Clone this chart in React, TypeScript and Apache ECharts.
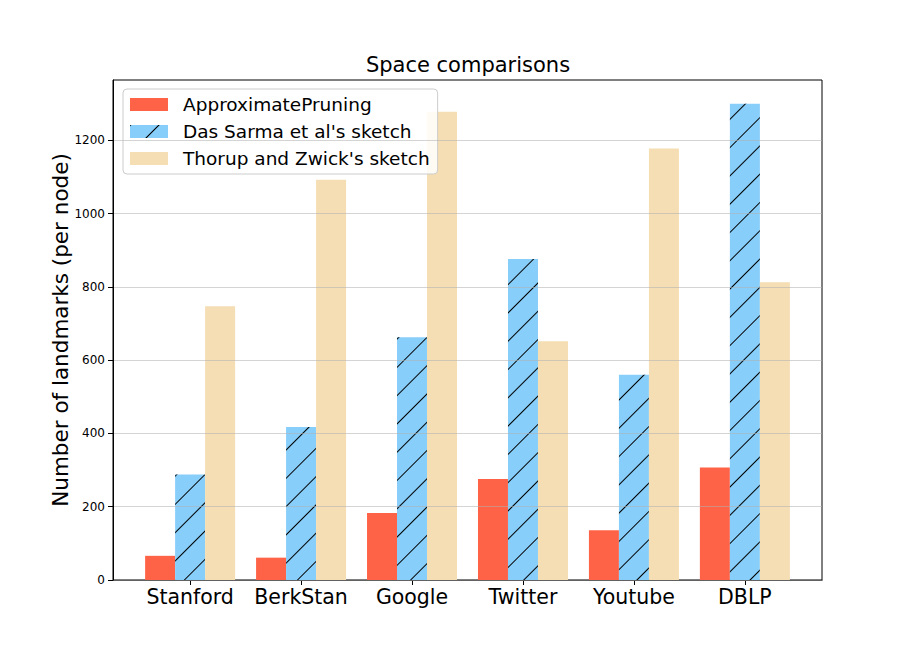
import React, { useEffect, useRef } from "react";
import * as echarts from "echarts";

const categories = ["Stanford", "BerkStan", "Google", "Twitter", "Youtube", "DBLP"];
const approximatePruning = [66, 61, 183, 276, 136, 307];
const dasSarma = [288, 418, 663, 876, 560, 1300];
const thorupZwick = [747, 1093, 1278, 652, 1178, 813];
const yTicks = [0, 200, 400, 600, 800, 1000, 1200];
const xTicks = [0, 1, 2, 3, 4, 5];

const FONT = "DejaVu Sans";

export default function App() {
  const ref = useRef<HTMLDivElement>(null);
  useEffect(() => {
    if (!ref.current) return;
    const chart = echarts.init(ref.current, undefined, { renderer: "svg" });
    const toPts = (arr: number[]) => arr.map((v, i) => [i, v]);
    chart.setOption({
      animation: false,
      backgroundColor: "#fff",
      title: {
        text: "Space comparisons",
        left: 468,
        textAlign: "center",
        top: 54,
        padding: 0,
        textStyle: { fontFamily: FONT, fontSize: 21, fontWeight: "normal", color: "#000" },
      },
      legend: {
        orient: "vertical",
        left: 123,
        top: 89,
        itemWidth: 38,
        itemHeight: 13,
        itemGap: 8,
        padding: [6, 8, 6, 7],
        borderColor: "#ccc",
        borderWidth: 1,
        borderRadius: 4,
        backgroundColor: "rgba(255,255,255,0.85)",
        icon: "rect",
        textStyle: { fontFamily: FONT, fontSize: 18.5, color: "#000", padding: [0, 0, 0, 10] },
        data: ["ApproximatePruning", "Das Sarma et al's sketch", "Thorup and Zwick's sketch"],
      },
      grid: {
        left: 113,
        right: 91,
        top: 80,
        bottom: 84,
        show: true,
        borderColor: "#000",
        borderWidth: 1,
        backgroundColor: "transparent",
      },
      xAxis: {
        type: "value",
        min: -0.695,
        max: 5.695,
        axisLine: { show: true, onZero: false, lineStyle: { color: "#000" } },
        axisTick: { show: true, length: 5, customValues: xTicks, lineStyle: { color: "#000" } },
        splitLine: { show: false },
        axisLabel: {
          customValues: xTicks,
          formatter: (v: number) => categories[Math.round(v)] ?? "",
          fontFamily: FONT,
          fontSize: 20.5,
          color: "#000",
          margin: 6,
        },
      },
      yAxis: {
        type: "value",
        min: 0,
        max: 1365,
        z: 5,
        name: "Number of landmarks (per node)",
        nameLocation: "middle",
        nameGap: 42,
        nameMoveOverlap: false,
        nameTextStyle: { fontFamily: FONT, fontSize: 21.5, color: "#000" },
        axisLine: { show: true, onZero: false, lineStyle: { color: "#000" } },
        axisTick: { show: true, length: 5, customValues: yTicks, lineStyle: { color: "#000" } },
        axisLabel: {
          customValues: yTicks,
          formatter: (v: number) => String(v),
          fontFamily: FONT,
          fontSize: 12,
          color: "#000",
          margin: 8,
        },
        splitLine: { show: true, lineStyle: { color: "rgba(176,176,176,0.55)", width: 1 } },
      },
      series: [
        {
          name: "ApproximatePruning",
          type: "bar",
          data: toPts(approximatePruning),
          barWidth: 30,
          barGap: "0%",
          itemStyle: { color: "#FF6347" },
        },
        {
          name: "Das Sarma et al's sketch",
          type: "bar",
          data: toPts(dasSarma),
          barWidth: 30,
          barGap: "0%",
          itemStyle: {
            color: "#87CEFA",
            decal: {
              symbol: "rect",
              symbolSize: 1,
              color: "#000",
              dashArrayX: [1, 0],
              dashArrayY: [1, 19],
              rotation: -Math.PI / 4,
            },
          },
        },
        {
          name: "Thorup and Zwick's sketch",
          type: "bar",
          data: toPts(thorupZwick),
          barWidth: 30,
          barGap: "0%",
          itemStyle: { color: "#F5DEB3" },
        },
      ],
    });
    return () => chart.dispose();
  }, []);
  return (
    <div
      ref={ref}
      style={{ position: "absolute", left: 0, top: 0, width: 913, height: 664 }}
    />
  );
}
